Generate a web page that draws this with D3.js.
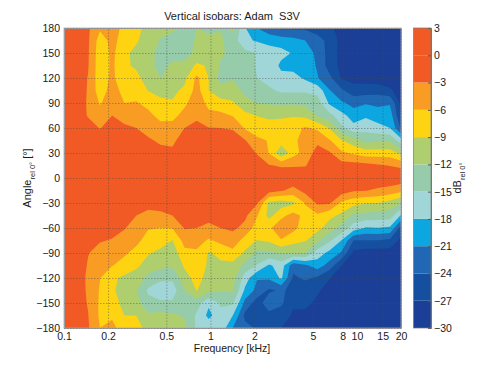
<!DOCTYPE html>
<html>
<head>
<meta charset="utf-8">
<script src="https://cdn.jsdelivr.net/npm/d3@7"></script>
<style>
  html, body { margin: 0; padding: 0; background: #fff; }
  text { font-family: "Liberation Sans", Arial, sans-serif; fill: #1a1a1a; }
</style>
</head>
<body>
<div id="chart"></div>
<script>
// grid positions of the measurements
var freqs = [0.1, 0.121, 0.146, 0.176, 0.213, 0.258, 0.312, 0.376, 0.455, 0.55, 0.665, 0.804, 0.972, 1.17, 1.42, 1.72, 2.08, 2.51, 3.04, 3.67, 4.44, 5.37, 6.49, 7.85, 9.49, 11.5, 13.9, 16.8, 20];
var angles = [180, 165, 150, 135, 120, 105, 90, 75, 60, 45, 30, 15, 0, -15, -30, -45, -60, -75, -90, -105, -120, -135, -150, -165, -180];

// dB level, one list per frequency, read from +180 down to -180
var dbByFreq = [
  [-1.2,-1.2,-1.2,-1.2,-1.2,-1.2,-1.2,-1.2,-1,-1,-0.8,-0.6,-0.5,-0.6,-0.8,-1,-1,-1.2,-1.2,-1.2,-1.2,-1.2,-1.2,-1.2,-1.2],
  [-1.6,-1.6,-1.6,-1.6,-1.6,-1.6,-1.6,-1.6,-1.4,-1,-0.8,-0.6,-0.5,-0.6,-0.8,-1,-1.2,-1.4,-1.5,-1.6,-1.6,-1.6,-1.6,-1.6,-1.6],
  [-2.6,-2.6,-2.7,-2.8,-3.1,-3.2,-3.3,-3.2,-2,-1,-0.8,-0.6,-0.5,-0.8,-1,-1.3,-1.8,-2.2,-2.9,-3.2,-3.5,-3.4,-3.2,-2.9,-2.7],
  [-5.5,-7.5,-8,-8,-8,-7.8,-6.3,-4.6,-3.1,-1.5,-0.8,-0.6,-0.5,-1,-1.2,-1.5,-2,-2.8,-4,-5,-5.9,-6.3,-6.5,-6.5,-6],
  [-4.5,-5,-5.3,-5.4,-5.2,-4.5,-4,-3,-2,-1,-0.7,-0.5,-0.4,-0.8,-1,-1.5,-2,-3.2,-4.5,-5.9,-8.5,-8.5,-8,-6.5,-5],
  [-7,-7.5,-8.5,-8.7,-8.7,-7.2,-6,-4.1,-2.5,-1.5,-0.8,-0.5,-0.4,-0.8,-1.8,-2.3,-2.8,-4.3,-5.6,-7,-9.6,-10.5,-9.8,-9,-8],
  [-8.2,-8.7,-9.7,-9.3,-8.5,-7.2,-5.8,-4.5,-3,-2,-1,-0.6,-0.5,-1.5,-2.5,-3,-4.5,-5.3,-6.9,-8.6,-10,-11.8,-11,-9,-8],
  [-10,-10.5,-11,-11,-10,-9.1,-6.8,-5.3,-4,-2.6,-1.2,-0.8,-0.5,-1.8,-2.2,-3.7,-5.8,-7.2,-8.8,-10,-13,-15.5,-14,-11.5,-10],
  [-11,-12.2,-13,-13,-12,-10,-8.2,-6.9,-4.9,-3.5,-2,-1,-0.5,-1.5,-2.2,-3.4,-6,-7.9,-9.6,-11,-14.5,-16.5,-14.5,-11,-10.5],
  [-11.5,-13,-13,-11.5,-10,-9.5,-8.8,-6.8,-5,-3.4,-2.6,-1.2,-0.5,-1.5,-2.4,-3,-5.9,-9.1,-10.5,-11.5,-14.5,-16.5,-14.5,-11.5,-11],
  [-12.5,-14,-13.5,-11,-9.7,-8.5,-6.6,-5,-3,-2,-1.2,-0.8,-0.5,-1.5,-1.8,-2.3,-2.8,-4.8,-6.9,-8.6,-10,-12,-13.5,-12.2,-11.5],
  [-12,-11.5,-11,-8.5,-5.3,-4.8,-4.2,-3.5,-2.3,-1.5,-1,-0.7,-0.5,-1.2,-1.5,-1.8,-3,-4.8,-6.5,-7.3,-8,-8.9,-13.5,-15.5,-15.5],
  [-12.5,-11.5,-11,-9.3,-9,-9,-6.9,-5.2,-2.9,-1.8,-1,-0.7,-0.5,-1,-1.4,-2.2,-3.6,-6.4,-9.3,-9.5,-10,-11,-17.5,-18.8,-16],
  [-12.2,-11.5,-11.5,-12.3,-13,-11,-7.9,-5.2,-3,-2,-1.2,-0.8,-0.5,-1,-1.5,-2.3,-3,-5.2,-8.2,-9.6,-10.5,-11.7,-14.5,-16,-16],
  [-11.5,-13.5,-13,-13,-12.3,-10.5,-8.7,-6.2,-3.2,-2,-1,-0.6,-0.5,-1,-1.5,-1.8,-2.5,-4.4,-6.8,-10,-11,-11.8,-14.5,-18,-21],
  [-17.8,-17.5,-14,-13.5,-13.5,-12.8,-10.9,-8.2,-6.3,-2.8,-1.5,-0.8,-0.5,-1.2,-2,-2.4,-3.8,-7.2,-9.6,-12.9,-16.5,-18.6,-22,-24.8,-23],
  [-21,-18.3,-15.2,-15.3,-15,-13.8,-12.2,-9.1,-7.6,-5.3,-3.2,-1.5,-0.5,-1.4,-2.7,-5.8,-7.5,-9.1,-12.8,-15.2,-20.8,-22,-25.5,-25.5,-24.5],
  [-23,-19,-16.5,-16,-16,-14.5,-12.3,-9.8,-7.3,-6.2,-6.1,-2.8,-1,-1.8,-9.8,-10,-6.5,-8.5,-12.4,-18.5,-20.5,-24.5,-22,-25,-25],
  [-24.5,-19.5,-17,-18.7,-17,-15.5,-12.5,-9.4,-7.8,-7.5,-11.5,-3.3,-1,-2.7,-10.5,-6.8,-4,-6.2,-11.8,-16.5,-17.5,-23.5,-23.5,-25.5,-27],
  [-24.5,-20,-18.3,-19,-17,-15.5,-12.4,-9.3,-6.8,-6.5,-7.2,-3.3,-0.8,-4,-9.6,-4.8,-5.2,-7.8,-12,-23,-24.5,-25,-26.5,-27.5,-28],
  [-24.5,-21,-20,-19.5,-18.5,-15.4,-12.8,-9.7,-5.7,-5,-4.7,-3.2,-0.7,-2,-5.8,-7,-7.5,-8.8,-12,-21.5,-23.5,-26,-26.5,-27.5,-28],
  [-25.5,-22.8,-21.5,-21.3,-20.8,-16,-13.5,-12.3,-6.5,-3.7,-1.8,-1,-0.5,-1,-2.5,-6.6,-8,-11.5,-16.5,-19.5,-24.5,-26.7,-27.5,-28,-28.5],
  [-26.5,-25,-25.5,-25.5,-23.2,-20.8,-18.5,-14,-9.2,-5.7,-2.6,-1.2,-0.5,-1,-2.6,-8.2,-10.6,-14.5,-18.9,-22.3,-26.9,-28,-28.5,-28.5,-28.7],
  [-28,-28,-28,-27.8,-27.3,-23.5,-20.5,-17,-14.3,-8.8,-5.5,-1.7,-0.5,-1.5,-6.6,-9.7,-13,-18.1,-21.4,-27,-28.3,-28.7,-29,-29,-29],
  [-28.5,-28.5,-28.5,-28.5,-28,-25.7,-22,-19.5,-17,-10.8,-6.5,-1.8,-0.5,-2.7,-8,-12.7,-16.5,-24.1,-27.9,-28.5,-29,-29,-29,-29,-29],
  [-29,-29,-29,-29,-28.3,-25.5,-21.3,-18.5,-16,-13,-7.6,-2,-0.5,-2.9,-8.9,-13,-18.3,-24.1,-28.5,-29,-29,-29,-29,-29,-29],
  [-29,-29,-29,-29,-28.7,-25.2,-21.7,-19.5,-17,-12.5,-7.5,-2.6,-1,-3.5,-9,-13.2,-18.1,-24.1,-28.5,-29,-29,-29,-29,-29,-29],
  [-29.5,-29.5,-29.5,-29.5,-29.5,-26.3,-21.3,-19.5,-18,-12.5,-7.5,-3.1,-1,-4,-10.2,-13.5,-18.5,-24.8,-28.3,-29,-29,-29,-29,-29,-29],
  [-29.5,-29.5,-29.5,-29.5,-29.5,-29.5,-28,-27,-24.5,-16.5,-10,-3.5,-1,-5.2,-11.9,-18.3,-25.4,-28,-29,-29.5,-29.5,-29.5,-29.5,-29.5,-29.5]
];

// colour bands, lowest first
var levels = [-30, -27, -24, -21, -18, -15, -12, -9, -6, -3, 0];
var bandColors = ["#1b3f97", "#14509f", "#2068b4", "#0ca7e0", "#a1d6d8", "#97ccaa", "#afcf6f", "#fed312", "#f99c24", "#f15a24", "#f15a24"];

var freqTicks = [0.1, 0.2, 0.5, 1, 2, 5, 8, 10, 15, 20];
var angleTicks = [180, 150, 120, 90, 60, 30, 0, -30, -60, -90, -120, -150, -180];
var barTicks = [3, 0, -3, -6, -9, -12, -15, -18, -21, -24, -27, -30];

var margin = { top: 28, right: 91, bottom: 41, left: 64 },
    width = 492 - margin.left - margin.right,
    height = 369 - margin.top - margin.bottom;

var svg = d3.select("#chart")
    .append("svg")
    .attr("width", 492)
    .attr("height", 369)
    .style("display", "block");

var plot = svg.append("g")
    .attr("transform", "translate(" + margin.left + "," + margin.top + ")");

var x = d3.scaleLog().domain([0.1, 20]).range([0, width]);
var y = d3.scaleLinear().domain([-180, 180]).range([height, 0]);

// contour coordinates are in grid cells, go through the index to get freq and angle
var colToFreq = d3.scaleLinear().domain(d3.range(freqs.length)).range(freqs).clamp(true);
var rowToAngle = d3.scaleLinear().domain(d3.range(angles.length)).range(angles).clamp(true);

var gridPath = d3.geoPath(d3.geoTransform({
    point: function (cx, cy) {
        this.stream.point(x(colToFreq(cx - 0.5)), y(rowToAngle(cy - 0.5)));
    }
}));

var rows = d3.transpose(dbByFreq);
var contours = d3.contours()
    .size([freqs.length, angles.length])
    .smooth(true)
    .thresholds(levels)(d3.merge(rows));

// base band under everything
plot.append("rect")
    .attr("width", width)
    .attr("height", height)
    .attr("fill", bandColors[0]);

plot.selectAll("path.band")
    .data(contours)
    .enter()
    .append("path")
    .attr("class", "band")
    .attr("d", function (d) { return gridPath(d); })
    .attr("fill", function (d, i) { return bandColors[i]; });

// X axis + vertical grid
var xAxis = plot.append("g")
    .attr("transform", "translate(0," + height + ")")
    .call(d3.axisBottom(x).tickValues(freqTicks).tickFormat(d3.format("")).tickSize(-height).tickPadding(5));

// Y axis + horizontal grid
var yAxis = plot.append("g")
    .call(d3.axisLeft(y).tickValues(angleTicks).tickFormat(d3.format("")).tickSize(-width).tickPadding(4));

[xAxis, yAxis].forEach(function (a) {
    a.selectAll("text").style("font-size", "10.5px").attr("fill", "#1a1a1a");
    a.selectAll("line")
        .attr("stroke", "#4a4a4a")
        .attr("stroke-width", 0.8)
        .attr("stroke-opacity", 0.55)
        .attr("stroke-dasharray", "1.5,1.5");
    a.select(".domain").attr("stroke", "#9a9a9a");
});

// frame
plot.append("rect")
    .attr("width", width)
    .attr("height", height)
    .attr("fill", "none")
    .attr("stroke", "#a8a8b0")
    .attr("stroke-width", 0.8);

// Title
svg.append("text")
    .attr("x", 232)
    .attr("y", 20)
    .attr("text-anchor", "middle")
    .style("font-size", "11px")
    .style("white-space", "pre")
    .text("Vertical isobars: Adam  S3V");

// Xlabel
svg.append("text")
    .attr("x", 232)
    .attr("y", 352)
    .attr("text-anchor", "middle")
    .style("font-size", "10.5px")
    .text("Frequency [kHz]");

// Ylabel
var yLabel = svg.append("text")
    .attr("transform", "translate(31,178) rotate(-90)")
    .attr("text-anchor", "middle")
    .style("font-size", "11px");
yLabel.append("tspan").text("Angle");
yLabel.append("tspan").attr("dy", 4).style("font-size", "7.5px").text("rel 0\u00b0");
yLabel.append("tspan").attr("dy", -4).text(" [\u00b0]");

// colorbar
var bar = svg.append("g").attr("transform", "translate(413.5," + margin.top + ")");
var barY = d3.scaleLinear().domain([-30, 3]).range([height, 0]);
var barTops = levels.slice(1).concat([3]);

bar.selectAll("rect")
    .data(levels)
    .enter()
    .append("rect")
    .attr("x", 0)
    .attr("width", 17.5)
    .attr("y", function (d, i) { return barY(barTops[i]); })
    .attr("height", function (d, i) { return barY(d) - barY(barTops[i]); })
    .attr("fill", function (d, i) { return bandColors[i]; });

var barAxis = bar.append("g")
    .attr("transform", "translate(17.5,0)")
    .call(d3.axisRight(barY).tickValues(barTicks).tickFormat(d3.format("")).tickSize(-3).tickPadding(3));
barAxis.selectAll("text").style("font-size", "10.5px").attr("fill", "#1a1a1a");
barAxis.selectAll("line").attr("stroke", "#555");
barAxis.select(".domain").attr("stroke", "#777");

bar.append("rect")
    .attr("width", 17.5)
    .attr("height", height)
    .attr("fill", "none")
    .attr("stroke", "#777")
    .attr("stroke-width", 0.7);

var barLabel = svg.append("text")
    .attr("transform", "translate(461,178) rotate(-90)")
    .attr("text-anchor", "middle")
    .style("font-size", "11px");
barLabel.append("tspan").text("dB");
barLabel.append("tspan").attr("dy", 4).style("font-size", "7.5px").text("rel 0\u00b0");
</script>
</body>
</html>
